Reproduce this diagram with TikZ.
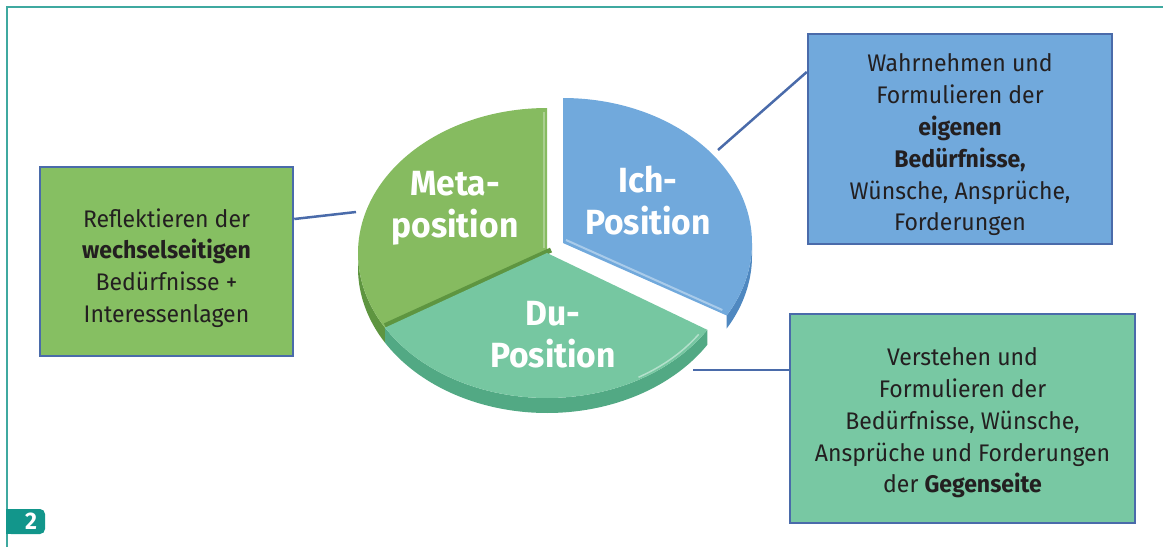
\documentclass[tikz,border=0pt]{standalone}
\usepackage{fontspec}
\setmainfont{Fira Sans}[FakeStretch=0.96]
\definecolor{frameteal}{HTML}{3FA9A0}
\definecolor{badgeteal}{HTML}{12968B}
\definecolor{bordblue}{HTML}{4A6BAA}
\definecolor{metaface}{HTML}{86BB60}
\definecolor{metaside}{HTML}{5E9540}
\definecolor{duface}{HTML}{76C7A1}
\definecolor{duside}{HTML}{52A984}
\definecolor{ichface}{HTML}{71A9DC}
\definecolor{ichside}{HTML}{4F88C0}
\definecolor{lboxfill}{HTML}{86BF62}
\definecolor{iboxfill}{HTML}{71A9DC}
\definecolor{dboxfill}{HTML}{78C8A3}
\definecolor{textdark}{HTML}{231F20}
\tikzset{
  infobox/.style={draw=bordblue, line width=2.5pt, inner sep=0pt},
  boxtext/.style={align=center, text=textdark, font=\fontsize{24}{31.8}\selectfont, inner sep=0pt},
  conn/.style={draw=bordblue, line width=2.5pt},
  pielabel/.style={text=white, align=center, font=\fontsize{35}{42}\selectfont\bfseries},
}
\begin{document}
\begin{tikzpicture}[x=1pt,y=-1pt]
\useasboundingbox (0,0) rectangle (1163,547);
% frame
\draw[frameteal, line width=2pt] (7,547) -- (7,7) -- (1163,7);
% badge
\fill[badgeteal, rounded corners=5pt] (6,509) -- (45,509) -- (45,534) -- (6,534) -- cycle;
\fill[badgeteal] (6,509) rectangle (20,534);
\node[text=white, font=\fontsize{24}{24}\selectfont\bfseries] (badge) at (31,521.5) {2};

% ---- pie ----
% Meta slice
\fill[metaside] plot[domain=180:211,samples=30] ({547+189*cos(\x)},{253-145*sin(\x)})
  -- plot[domain=211:180,samples=30] ({547+189*cos(\x)},{268-145*sin(\x)}) -- cycle;
\fill[metaface] (547,253) -- plot[domain=90:211,samples=80] ({547+189*cos(\x)},{253-145*sin(\x)}) -- cycle;
\draw[metaside, line width=5pt] (551,250) -- ({547+189*cos(211)},{251-145*sin(211)});
\draw[white, opacity=0.3, line width=2pt] (544,112) -- (544,248);
% Ich slice (exploded)
\fill[ichside] plot[domain=-30:0,samples=30] ({563+189*cos(\x)},{243-145*sin(\x)})
  -- plot[domain=0:-30,samples=30] ({563+189*cos(\x)},{256-145*sin(\x)}) -- cycle;
\fill[ichface] (563,243) -- plot[domain=-30:90,samples=80] ({563+189*cos(\x)},{243-145*sin(\x)}) -- cycle;
\draw[white, opacity=0.4, line width=2pt] (566,240) -- ({563+184*cos(-30)},{240-140*sin(-30)});
% Du slice
\fill[duside] plot[domain=211:328,samples=80] ({547+189*cos(\x)},{253-145*sin(\x)})
  -- plot[domain=328:211,samples=80] ({547+189*cos(\x)},{268-145*sin(\x)}) -- cycle;
\fill[duface] (547,253) -- plot[domain=211:328,samples=80] ({547+189*cos(\x)},{253-145*sin(\x)}) -- cycle;
\draw[white, opacity=0.45, line width=1.5pt] plot[domain=300:326,samples=30] ({547+183*cos(\x)},{256-140*sin(\x)});

\node[pielabel] (meta) at (455,208) {Meta-\\position};
\node[pielabel] (ich) at (648,201) {Ich-\\Position};
\node[pielabel] (du) at (553,335) {Du-\\Position};

% ---- boxes ----
\node[infobox, fill=lboxfill, minimum width=253pt, minimum height=189pt] (lbox) at (166.5,261.5) {};
\node[boxtext] (ltext) at (166.5,268) {Reflektieren der\\\textbf{wechselseitigen}\\Bedürfnisse +\\Interessenlagen};
\node[infobox, fill=iboxfill, minimum width=304pt, minimum height=210pt] (ibox) at (960,139) {};
\node[boxtext] (itext) at (960,145) {Wahrnehmen und\\Formulieren der\\\textbf{eigenen}\\\textbf{Bedürfnisse,}\\Wünsche, Ansprüche,\\Forderungen};
\node[infobox, fill=dboxfill, minimum width=345pt, minimum height=209pt] (dbox) at (962.5,418.5) {};
\node[boxtext] (dtext) at (962.5,423) {Verstehen und\\Formulieren der\\Bedürfnisse, Wünsche,\\Ansprüche und Forderungen\\der \textbf{Gegenseite}};

% ---- connectors ----
\coordinate (metaend) at (356,212);
\coordinate (ichend) at (718,150);
\coordinate (duend) at (693,370);
\draw[conn] ([yshift=42.5pt]lbox.east) -- (metaend);
\draw[conn] ([yshift=67pt]ibox.west) -- (ichend);
\draw[conn] ([yshift=48.5pt]dbox.west) -- (duend);
\end{tikzpicture}
\end{document}
